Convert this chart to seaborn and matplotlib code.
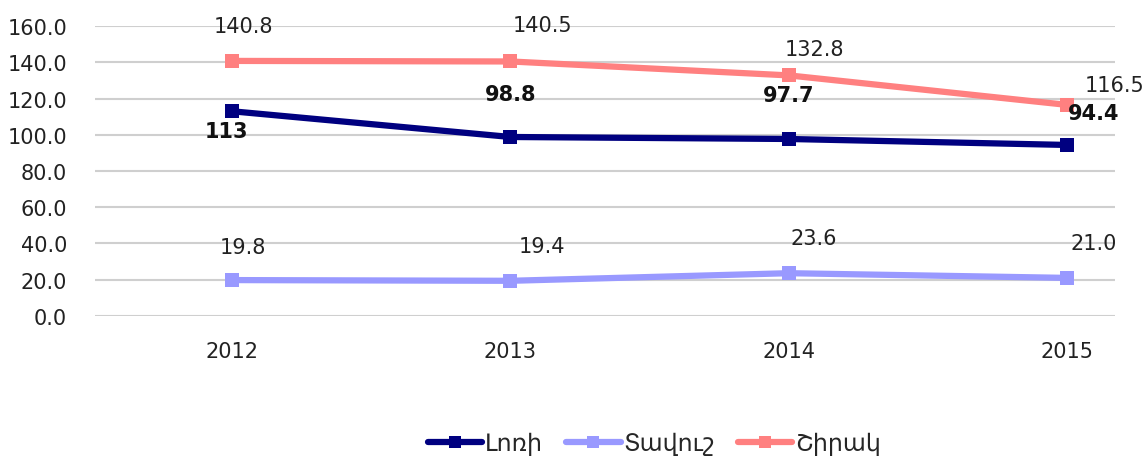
import matplotlib
matplotlib.use("Agg")
import matplotlib.pyplot as plt
import pandas as pd
import seaborn as sns

years = ["2012", "2013", "2014", "2015"]
lori = [113.0, 98.8, 97.7, 94.4]
tavush = [19.8, 19.4, 23.6, 21.0]
shirak = [140.8, 140.5, 132.8, 116.5]
lori_labels = ["113", "98.8", "97.7", "94.4"]
series_names = ["Լոռի", "Տավուշ", "Շիրակ"]
colors = ["#000080", "#9999FF", "#FF8080"]

sns.set_style("white")
plt.rcParams["font.family"] = ["DejaVu Sans"]

df = pd.DataFrame({
    "year": years * 3,
    "value": lori + tavush + shirak,
    "region": [series_names[0]] * 4 + [series_names[1]] * 4 + [series_names[2]] * 4,
})

fig = plt.figure(figsize=(11.44, 4.6), dpi=100)
ax = fig.add_axes([0.083, 0.311, 0.892, 0.63])

sns.lineplot(data=df, x="year", y="value", hue="region", hue_order=series_names,
             palette=colors, marker="s", markersize=10, markeredgewidth=0,
             linewidth=4.5, dashes=False, ax=ax, legend=False)

ax.set_ylim(0, 160)
ax.set_xlim(-0.492, 3.172)
ax.set_yticks(range(0, 161, 20))
ax.set_yticklabels([f"{v:.1f}" for v in range(0, 161, 20)])
ax.yaxis.grid(True, color="#cfcfcf", linewidth=1.5)
ax.xaxis.grid(False)
for s in ax.spines.values():
    s.set_visible(False)
ax.set_xlabel("")
ax.set_ylabel("")
ax.tick_params(axis="both", labelsize=15, colors="#222222", length=0)
ax.tick_params(axis="y", pad=20)
ax.tick_params(axis="x", pad=18)

# data labels (offsets in points)
shirak_off = [(8, 25), (23, 26), (18, 19), (34, 14)]
tavush_off = [(8, 24), (23, 25), (18, 25), (19, 25)]
lori_off = [(-4, -14), (0, 31), (0, 32), (19, 23)]
for i, y in enumerate(years):
    ax.annotate(f"{shirak[i]:.1f}", (i, shirak[i]), xytext=shirak_off[i],
                textcoords="offset points", ha="center", va="center",
                fontsize=15, color="#222222")
    ax.annotate(f"{tavush[i]:.1f}", (i, tavush[i]), xytext=tavush_off[i],
                textcoords="offset points", ha="center", va="center",
                fontsize=15, color="#222222")
    ax.annotate(lori_labels[i], (i, lori[i]), xytext=lori_off[i],
                textcoords="offset points", ha="center", va="center",
                fontsize=15, fontweight="bold", color="#111111")

handles = [plt.Line2D([], [], color=c, linewidth=4.5, marker="s", markersize=8,
                      markeredgewidth=0) for c in colors]
fig.legend(handles, series_names, loc="center", bbox_to_anchor=(0.572, 0.035),
           ncol=3, frameon=False, fontsize=17, handlelength=2.3,
           handletextpad=0.1, columnspacing=1.0)

fig.savefig("out.png", dpi=100)
